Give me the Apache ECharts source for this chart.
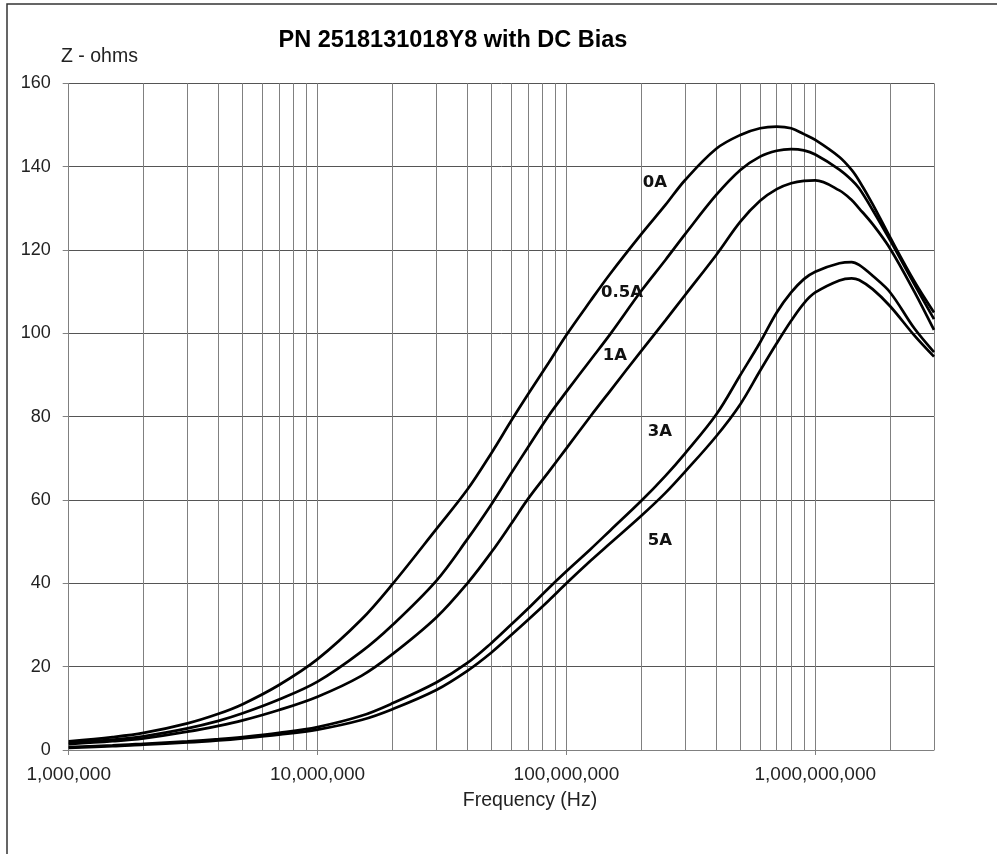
<!DOCTYPE html>
<html>
<head>
<meta charset="utf-8">
<script src="https://cdn.jsdelivr.net/npm/echarts@6/dist/echarts.min.js"></script>
<style>
html,body{margin:0;padding:0;background:#fff;}
#chart{width:997px;height:854px;}
</style>
</head>
<body>
<div id="chart"></div>
<script>
// Frequencies (Hz)
var freqs = [1e6, 1.5e6, 2e6, 3e6, 4e6, 5e6, 7e6, 1e7, 1.5e7, 2e7, 3e7, 4e7, 5e7, 6e7, 7e7, 8.5e7, 1e8, 1.25e8, 1.5e8, 2e8, 2.5e8, 3e8, 4e8, 5e8, 6e8, 7e8, 8e8, 9e8, 1e9, 1.25e9, 1.4e9, 1.5e9, 1.7e9, 2e9, 2.5e9, 3e9];
// Impedance (ohms) for each DC bias
var z0A  = [2.1, 3.1, 4.1, 6.4, 8.7, 11.0, 15.6, 21.8, 31.3, 39.8, 53.0, 62.5, 71.3, 79.0, 85.3, 93.0, 99.6, 107.8, 114.3, 123.8, 130.8, 136.8, 144.3, 147.6, 149.2, 149.6, 149.2, 147.8, 146.4, 142.3, 139.2, 136.6, 131.0, 123.0, 112.5, 105.0];
var z05A = [1.7, 2.5, 3.3, 5.2, 7.0, 8.8, 12.1, 16.4, 23.6, 30.0, 40.6, 50.6, 59.0, 66.4, 72.6, 80.3, 86.0, 93.6, 99.8, 110.2, 117.6, 123.8, 133.2, 139.2, 142.4, 143.8, 144.2, 143.9, 142.9, 139.3, 136.8, 134.8, 129.6, 122.3, 111.8, 103.4];
var z1A  = [1.4, 2.1, 2.8, 4.4, 5.8, 7.1, 9.6, 12.8, 17.8, 23.0, 31.8, 40.0, 47.5, 54.3, 60.2, 66.8, 72.4, 80.1, 86.2, 95.8, 103.1, 109.2, 118.8, 126.8, 131.8, 134.6, 136.0, 136.6, 136.7, 134.3, 132.0, 130.0, 126.2, 120.3, 110.0, 100.8];
var z3A  = [0.7, 1.1, 1.5, 2.1, 2.6, 3.1, 4.1, 5.5, 8.2, 11.2, 16.2, 20.9, 25.7, 30.1, 33.9, 38.9, 42.9, 48.2, 52.7, 59.8, 65.8, 71.2, 80.5, 90.0, 97.8, 105.0, 109.8, 113.0, 114.8, 116.8, 117.1, 116.4, 113.8, 109.8, 101.2, 95.5];
var z5A  = [0.5, 0.9, 1.3, 1.8, 2.3, 2.8, 3.7, 4.9, 7.2, 9.8, 14.4, 19.0, 23.4, 27.6, 31.2, 35.9, 40.0, 45.4, 49.6, 56.2, 61.7, 66.8, 75.3, 83.0, 91.0, 97.6, 103.0, 107.2, 109.8, 112.7, 113.2, 112.8, 110.6, 106.5, 99.5, 94.4];
var seriesNames = ['0A', '0.5A', '1A', '3A', '5A'];
// Vertical grid line positions (decades and 2..9 subdivisions)
var gridFreqs = [1e6,2e6,3e6,4e6,5e6,6e6,7e6,8e6,9e6,1e7,2e7,3e7,4e7,5e7,6e7,7e7,8e7,9e7,1e8,2e8,3e8,4e8,5e8,6e8,7e8,8e8,9e8,1e9,2e9,3e9];
var yTicks = [0, 20, 40, 60, 80, 100, 120, 140, 160];

function pairs(vals){ return freqs.map(function(f,i){ return [f, vals[i]]; }); }

var chart = echarts.init(document.getElementById('chart'), null, {renderer:'canvas'});
var allVals = [z0A, z05A, z1A, z3A, z5A];
var series = allVals.map(function(v, i){
  return {
    name: seriesNames[i], type: 'line', data: pairs(v), showSymbol: false, smooth: 0.35,
    lineStyle: {color: '#000', width: 2.7}, z: 5, animation: false
  };
});
series.push({
  type: 'line', data: [], silent: true, animation: false,
  markLine: {
    silent: true, symbol: ['none','none'], animation: false,
    label: {show: false},
    lineStyle: {color: '#808080', width: 1, type: 'solid'},
    data: gridFreqs.map(function(f){ return {xAxis: f}; })
  }
});

var labelPos = [[655,183],[622,293],[615,356],[660,432],[660,541]];
var graphics = [
  {type:'rect', shape:{x:7, y:4, width:1000, height:900}, style:{fill:'none', stroke:'#333', lineWidth:1.5}, silent:true},
  {type:'text', x:453, y:41, style:{text:'PN 2518131018Y8 with DC Bias', font:'bold 23.5px "Liberation Sans", Arial, sans-serif', fill:'#000', textAlign:'center', textVerticalAlign:'middle'}},
  {type:'text', x:61, y:57, style:{text:'Z - ohms', font:'19.5px "Liberation Sans", Arial, sans-serif', fill:'#222', textAlign:'left', textVerticalAlign:'middle'}},
  {type:'text', x:530, y:801, style:{text:'Frequency (Hz)', font:'19.5px "Liberation Sans", Arial, sans-serif', fill:'#222', textAlign:'center', textVerticalAlign:'middle'}}
];
seriesNames.forEach(function(n,i){
  graphics.push({type:'text', x:labelPos[i][0], y:labelPos[i][1], z:10, style:{text:n, font:'bold 16.5px "DejaVu Sans", sans-serif', fill:'#111', textAlign:'center', textVerticalAlign:'middle'}});
});

chart.setOption({
  backgroundColor: '#fff',
  animation: false,
  grid: {left: 68.7, right: 63, top: 83.3, bottom: 104, containLabel: false},
  xAxis: {
    type: 'log', logBase: 10, min: 1e6, max: 3e9,
    axisLine: {show: true, lineStyle: {color: '#808080', width: 1}},
    axisTick: {show: true, length: 5, lineStyle: {color: '#808080'}},
    axisLabel: {
      show: true, margin: 15, color: '#222', fontSize: 19, fontFamily: '"Liberation Sans", Arial, sans-serif',
      showMaxLabel: false,
      formatter: function(v){ return Math.round(v).toLocaleString('en-US'); }
    },
    splitLine: {show: false},
    minorTick: {show: false}
  },
  yAxis: {
    type: 'value', min: yTicks[0], max: yTicks[yTicks.length-1], interval: 20,
    axisLine: {show: false},
    axisTick: {show: true, length: 6, lineStyle: {color: '#808080'}},
    axisLabel: {margin: 18, color: '#222', fontSize: 18, fontFamily: '"Liberation Sans", Arial, sans-serif'},
    splitLine: {show: true, lineStyle: {color: '#555', width: 1}}
  },
  graphic: graphics,
  series: series
});
</script>
</body>
</html>
